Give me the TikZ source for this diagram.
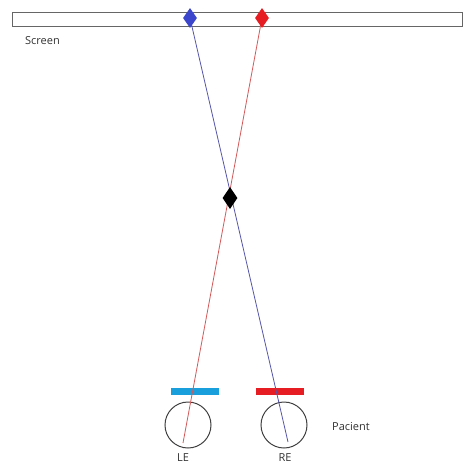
\documentclass[tikz,border=0pt]{standalone}
\usepackage{fontspec}
\setmainfont{Open Sans}
\usetikzlibrary{shapes.geometric}
\definecolor{rayblue}{RGB}{85,85,170}
\definecolor{rayred}{RGB}{210,90,90}
\definecolor{markblue}{RGB}{60,70,205}
\definecolor{markred}{RGB}{230,30,35}
\definecolor{filtercyan}{RGB}{25,160,220}
\definecolor{labelgrey}{RGB}{50,50,50}
\begin{document}
\begin{tikzpicture}[x=1pt,y=-1pt,
  lbl/.style={text=labelgrey,font=\fontsize{11}{13}\selectfont,inner sep=0pt},
  dot/.style={diamond,inner sep=0pt,minimum width=14pt,minimum height=20pt,draw=none},
  eye/.style={circle,draw=black!75,line width=1pt,minimum size=46pt,inner sep=0pt},
  ray/.style={line width=0.8pt}]
\useasboundingbox (0,0) rectangle (464,464);
% screen strip
\node[draw=black!60,line width=1pt,minimum width=450pt,minimum height=14pt,inner sep=0pt,anchor=north west] (screen) at (12,12) {};
\node[lbl,anchor=west] (screenlbl) at (25,41) {Screen};
% eyes and filters
\node[eye] (le) at (188,425) {};
\node[eye] (re) at (284,425) {};
\node[fill=filtercyan,minimum width=48pt,minimum height=7pt,inner sep=0pt] (lf) at (195,391.5) {};
\node[fill=markred,minimum width=48pt,minimum height=7pt,inner sep=0pt] (rf) at (280,391.5) {};
\coordinate (lep) at (183,443);
\coordinate (rep) at (288,442);
\node[lbl] (lelbl) at (183,458) {LE};
\node[lbl] (relbl) at (285,458) {RE};
\node[lbl] (pac) at (351,427) {Pacient};
% rays from screen points to the eyes
\coordinate (bp) at (190,18);
\coordinate (rp) at (262,18);
\draw[ray,rayblue] (bp) -- (rep);
\draw[ray,rayred] (rp) -- (lep);
% screen points and perceived point
\node[dot,fill=markblue] (bm) at (bp) {};
\node[dot,fill=markred] (rm) at (rp) {};
\node[dot,fill=black,minimum width=15pt,minimum height=22pt] (pm) at (230,198) {};
\end{tikzpicture}
\end{document}
